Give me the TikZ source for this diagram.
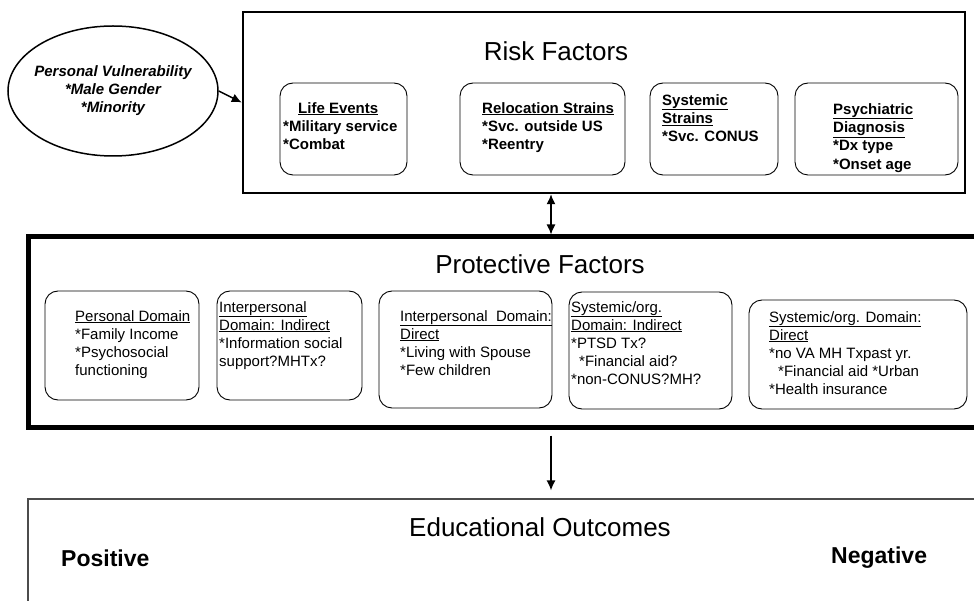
\documentclass[tikz,border=0pt]{standalone}
\usepackage{fontspec}
\setmainfont{Liberation Sans}
\usetikzlibrary{shapes.geometric,arrows.meta}

\begin{document}
\begin{tikzpicture}[%
      x=1pt, y=-1pt,
      >={Latex[length=10pt,width=9pt]},
      rbox/.style={draw, rounded corners=13pt, line width=0.9pt, inner sep=0pt},
      rtxt/.style={font=\fontsize{15}{18.4}\selectfont\bfseries, align=left, anchor=north west, inner sep=0pt},
      ptxt/.style={font=\fontsize{15}{18}\selectfont, align=left, anchor=north west, inner sep=0pt},
      title/.style={font=\fontsize{26}{30}\selectfont, inner sep=0pt},
      sidetxt/.style={font=\fontsize{23}{27}\selectfont\bfseries, anchor=west, inner sep=0pt},
      ]
      \useasboundingbox (0,0) rectangle (974,601);
      \clip (0,0) rectangle (974,601);

      \node [ellipse, draw, line width=1.5pt, minimum width=210pt, minimum height=130pt, inner xsep=-7pt, inner ysep=0pt,
             align=center, font=\fontsize{15}{18}\selectfont\bfseries\itshape] (vuln) at (113,91)
            {Personal Vulnerability\\{}*Male Gender\\{}*Minority};

      \node [draw, line width=2.5pt, minimum width=722pt, minimum height=181pt, inner sep=0pt] (risk) at (604,102.5) {};
      \node [draw, line width=5pt, minimum width=980pt, minimum height=190pt, inner sep=0pt] (prot) at (518,332) {};
      \node [draw, color=black!70, line width=1.2pt, minimum width=980pt, minimum height=160pt, inner sep=0pt] (outcome) at (518,579) {};

      \node [title] (risktitle) at (556,51) {Risk Factors};
      \node [title] (prottitle) at (540,264.5) {Protective Factors};
      \node [title] (outtitle) at (540,527) {Educational Outcomes};

      \node [rbox, minimum width=127pt, minimum height=92pt] (life) at (343.5,129) {};
      \node [rbox, minimum width=165pt, minimum height=92pt] (reloc) at (542.5,129) {};
      \node [rbox, minimum width=128pt, minimum height=92pt] (sysrisk) at (714,129) {};
      \node [rbox, minimum width=163pt, minimum height=92pt] (psych) at (876.5,129) {};

      \node [rtxt] (lifetxt) at (283,102) {\hspace*{15pt}\underline{Life Events}\\{}*Military service\\{}*Combat};
      \node [rtxt] (reloctxt) at (482,102) {\underline{Relocation Strains}\\{}*Svc. outside US\\{}*Reentry};
      \node [rtxt] (sysrisktxt) at (662,94) {\underline{Systemic}\\\underline{Strains}\\{}*Svc. CONUS};
      \node [rtxt] (psychtxt) at (833,103) {\underline{Psychiatric}\\\underline{Diagnosis}\\{}*Dx type\\{}*Onset age};

      \node [rbox, minimum width=154pt, minimum height=109pt] (persdom) at (122,345.5) {};
      \node [rbox, minimum width=145pt, minimum height=109pt] (intind) at (289.5,345.5) {};
      \node [rbox, minimum width=173pt, minimum height=117pt] (intdir) at (465.5,349.5) {};
      \node [rbox, minimum width=163pt, minimum height=117pt] (sysind) at (650.5,350.5) {};
      \node [rbox, minimum width=218pt, minimum height=109pt] (sysdir) at (858,354.5) {};

      \node [ptxt] (perstxt) at (75,310) {\underline{Personal Domain}\\{}*Family Income\\{}*Psychosocial\\functioning};
      \node [ptxt] (intindtxt) at (219,301) {\underline{Interpersonal}\\\underline{Domain: Indirect}\\{}*Information social\\support?MHTx?};
      \node [ptxt] (intdirtxt) at (400,310) {\underline{Interpersonal\ \ Domain:}\\\underline{Direct}\\{}*Living with Spouse\\{}*Few children};
      \node [ptxt] (sysindtxt) at (571,301) {\underline{Systemic/org.}\\\underline{Domain: Indirect}\\{}*PTSD Tx?\\\hspace*{8pt}*Financial aid?\\{}*non-CONUS?MH?};
      \node [ptxt] (sysdirtxt) at (769,311) {\underline{Systemic/org. Domain:}\\\underline{Direct}\\{}*no VA MH Txpast yr.\\\hspace*{9pt}*Financial aid *Urban\\{}*Health insurance};

      \node [sidetxt] (pos) at (61,558.5) {Positive};
      \node [sidetxt] (neg) at (831,558) {Negative};

      \coordinate (mid) at (551,0);
      \draw [->, line width=1.5pt] (vuln.east) -- (risk.west);
      \draw [<->, line width=1.3pt] (risk.south -| mid) -- (prot.north -| mid);
      \draw [->, line width=1.3pt, shorten <=6pt, shorten >=8pt] (prot.south -| mid) -- (outcome.north -| mid);
\end{tikzpicture}
\end{document}
